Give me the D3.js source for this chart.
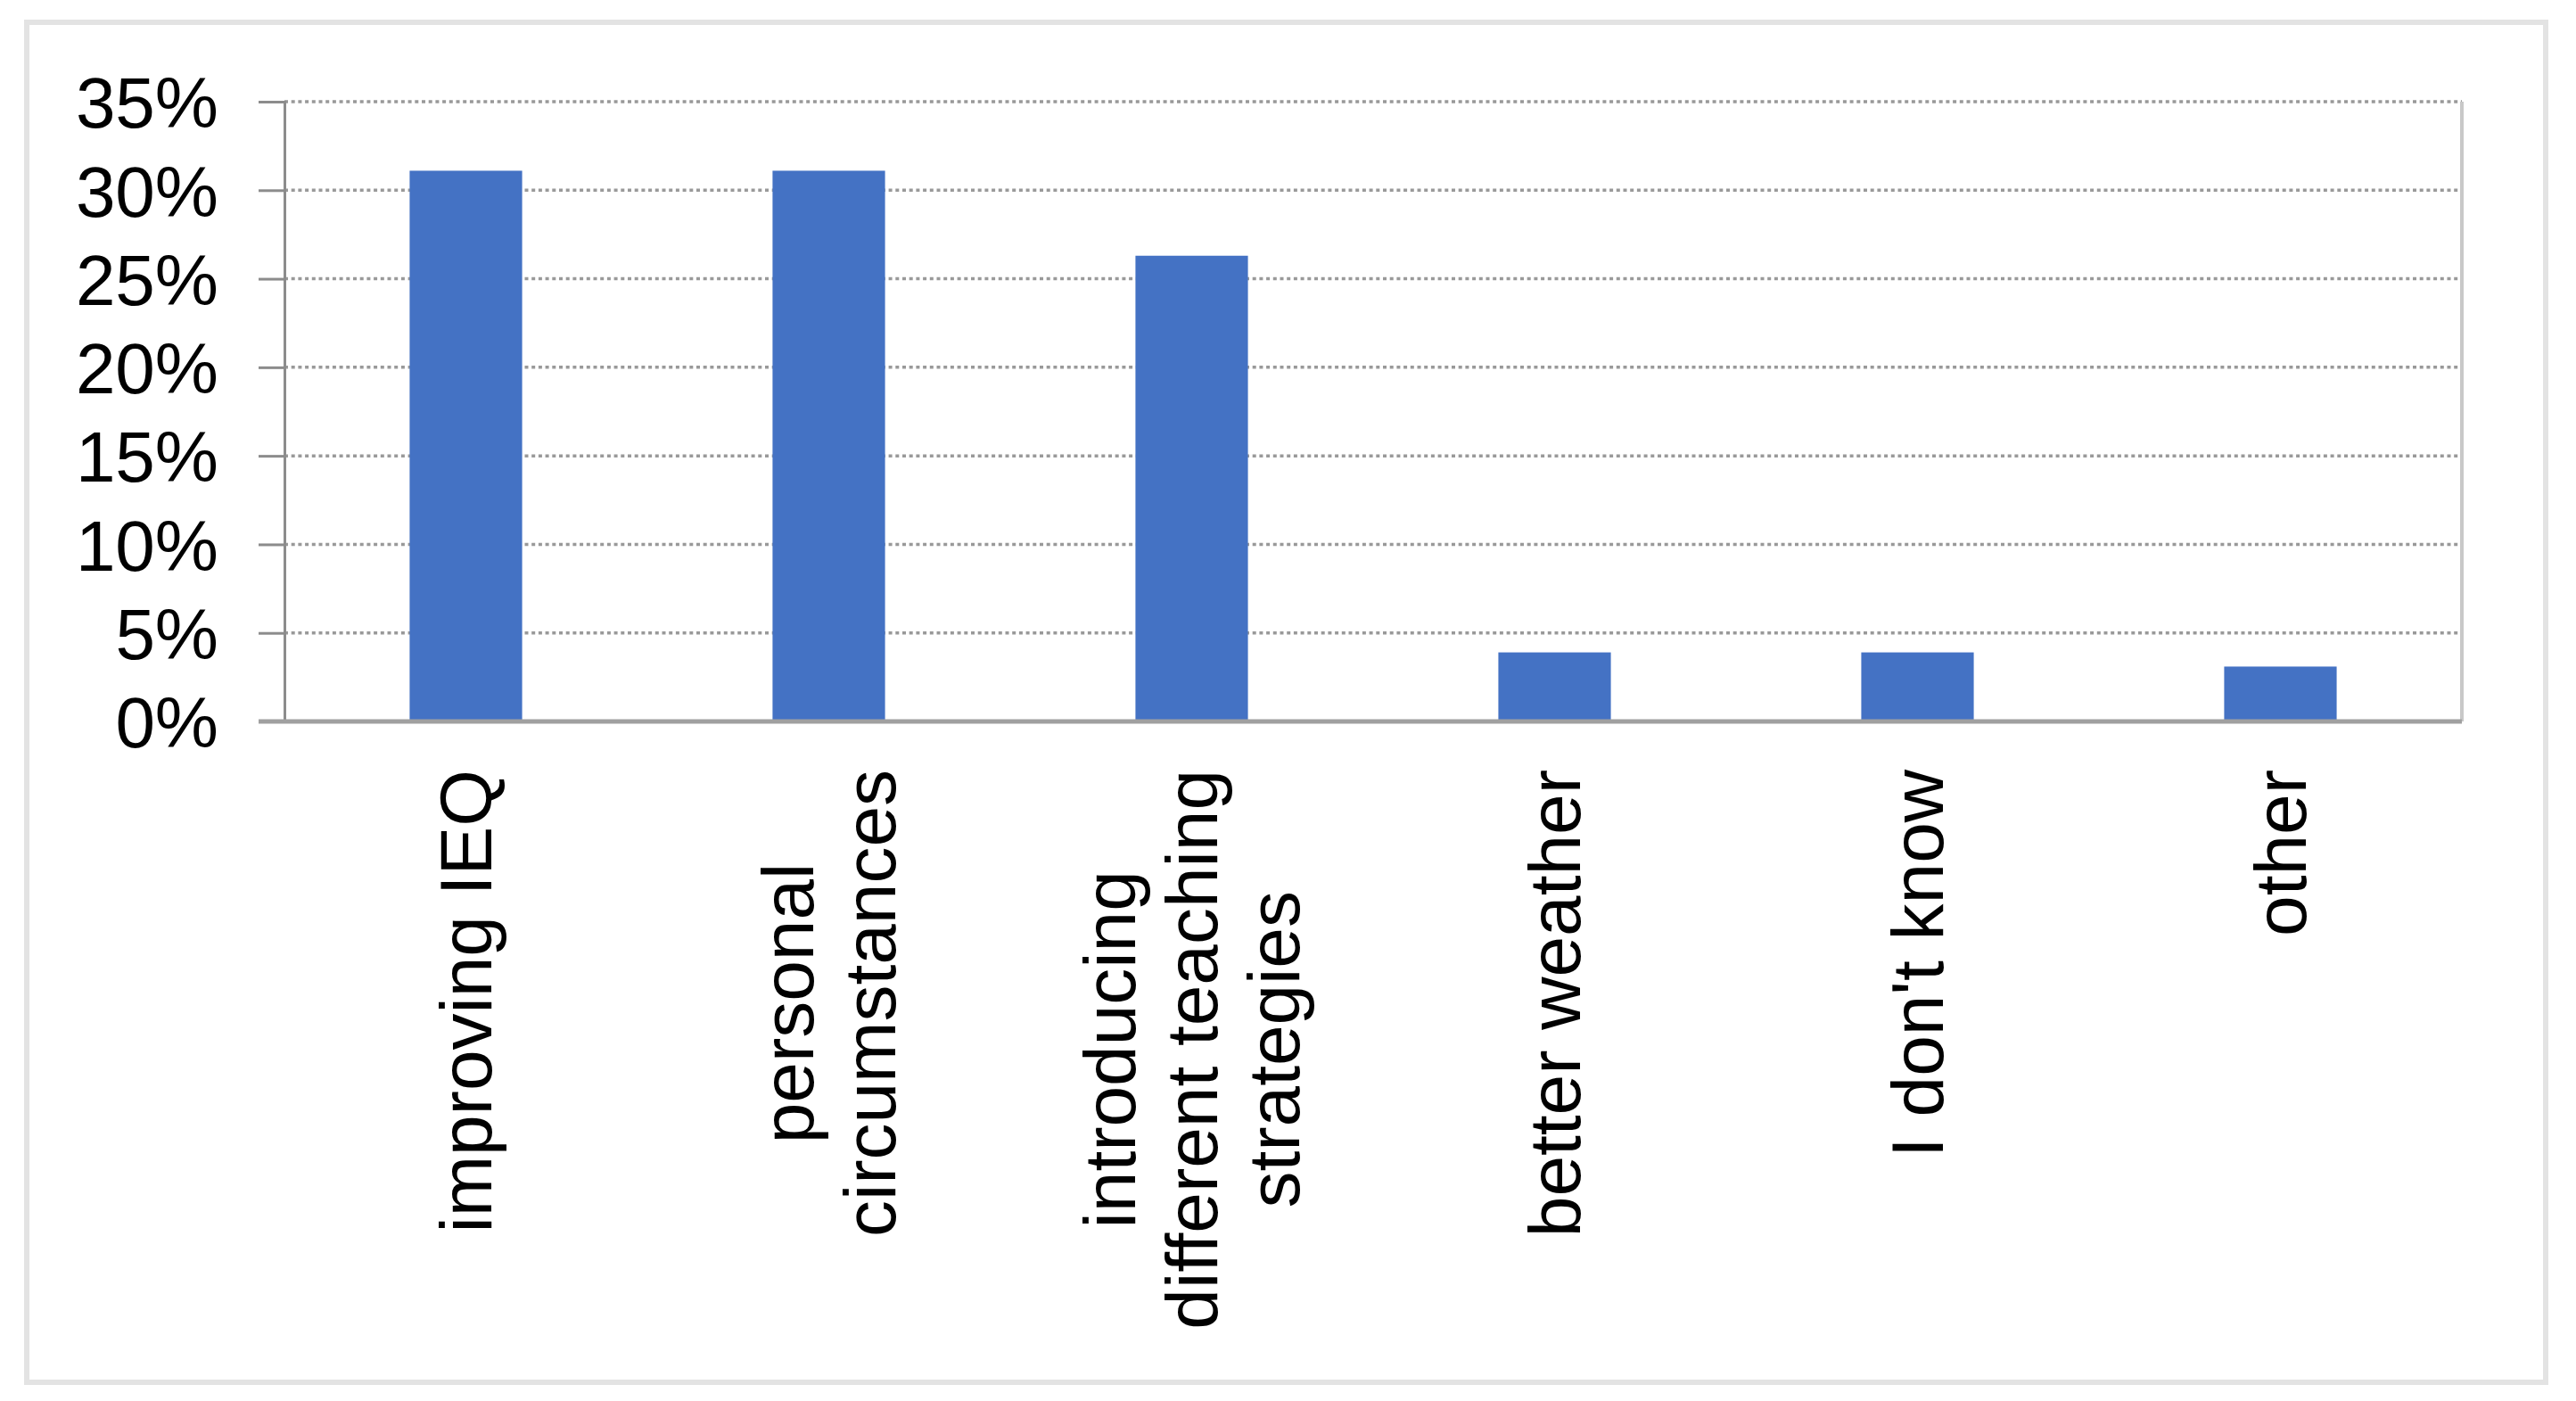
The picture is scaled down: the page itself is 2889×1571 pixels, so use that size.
<!DOCTYPE html>
<html>
<head>
<meta charset="utf-8">
<script src="https://cdn.jsdelivr.net/npm/d3@7"></script>
<style>
  html, body {
    margin: 0;
    padding: 0;
    background: #ffffff;
  }
  svg {
    display: block;
  }
  text {
    font-family: "Liberation Sans", Arial, Helvetica, sans-serif;
    fill: #000000;
  }
</style>
</head>
<body>
<svg id="chart"></svg>
<script>
// Data
const categories = [
  ["improving IEQ"],
  ["personal", "circumstances"],
  ["introducing", "different teaching", "strategies"],
  ["better weather"],
  ["I don't know"],
  ["other"],
];
const values = [31.1, 31.1, 26.3, 3.9, 3.9, 3.1];
const yTicks = [0, 5, 10, 15, 20, 25, 30, 35];

// Chart dimensions
const width = 2889;
const height = 1571;
const plotLeft = 319;
const plotRight = 2761;
const plotTop = 114;
const plotBottom = 809;
const tickLen = 29;
const xFont = 82;
const yFont = 80;
const lineHeight = 92;
const labelTop = 863;

const svg = d3
  .select("#chart")
  .attr("width", width)
  .attr("height", height)
  .attr("viewBox", [0, 0, width, height]);

// Outer frame
svg
  .append("rect")
  .attr("x", 30)
  .attr("y", 25)
  .attr("width", 2825)
  .attr("height", 1525)
  .attr("fill", "#ffffff")
  .attr("stroke", "#e3e3e3")
  .attr("stroke-width", 6);

// Scales
const x = d3
  .scaleBand()
  .domain(d3.range(categories.length))
  .range([plotLeft, plotRight])
  .paddingInner(0.69)
  .paddingOuter(0.345);

const y = d3
  .scaleLinear()
  .domain([0, 35])
  .range([plotBottom, plotTop]);

// Dotted gridlines
svg
  .append("g")
  .selectAll("line")
  .data(yTicks.filter((d) => d > 0))
  .join("line")
  .attr("x1", plotLeft)
  .attr("x2", plotRight)
  .attr("y1", (d) => y(d))
  .attr("y2", (d) => y(d))
  .attr("stroke", "#999999")
  .attr("stroke-width", 3.5)
  .attr("stroke-dasharray", "4,3.7");

// Right edge of plot area
svg
  .append("line")
  .attr("x1", plotRight)
  .attr("x2", plotRight)
  .attr("y1", plotTop)
  .attr("y2", plotBottom)
  .attr("stroke", "#c8c8c8")
  .attr("stroke-width", 4);

// Bars
svg
  .append("g")
  .selectAll("rect")
  .data(values)
  .join("rect")
  .attr("x", (d, i) => x(i))
  .attr("width", x.bandwidth())
  .attr("y", (d) => y(d))
  .attr("height", (d) => y(0) - y(d))
  .attr("fill", "#4472c4");

// Y axis
svg
  .append("g")
  .attr("transform", `translate(${plotLeft},0)`)
  .call(
    d3
      .axisLeft(y)
      .tickValues(yTicks)
      .tickSize(tickLen)
      .tickPadding(45)
      .tickFormat((d) => d + "%")
  )
  .call((g) => g.select(".domain").attr("stroke", "#8c8c8c").attr("stroke-width", 3))
  .call((g) => g.selectAll(".tick line").attr("stroke", "#8c8c8c").attr("stroke-width", 3))
  .call((g) =>
    g
      .selectAll(".tick text")
      .attr("font-size", yFont)
      .attr("font-family", null)
      .attr("fill", "#000000")
      .attr("dy", "0.36em")
  );

// X axis baseline
svg
  .append("line")
  .attr("x1", plotLeft - tickLen)
  .attr("x2", plotRight)
  .attr("y1", y(0))
  .attr("y2", y(0))
  .attr("stroke", "#a0a0a0")
  .attr("stroke-width", 5);

// Rotated category labels, lines centred on each other
const labels = svg
  .append("g")
  .selectAll("text")
  .data(categories)
  .join("text")
  .attr("font-size", xFont)
  .attr("text-anchor", "middle");

labels.each(function (lines, i) {
  const t = d3.select(this);
  const n = lines.length;
  lines.forEach((line, j) => {
    t.append("tspan")
      .attr("x", 0)
      .attr("y", (j - (n - 1) / 2) * lineHeight + 0.35 * xFont)
      .text(line);
  });
  let maxW = 0;
  t.selectAll("tspan").each(function () {
    maxW = Math.max(maxW, this.getComputedTextLength());
  });
  const cx = x(i) + x.bandwidth() / 2;
  const cy = labelTop + maxW / 2;
  t.attr("transform", `translate(${cx},${cy}) rotate(-90)`);
});
</script>
</body>
</html>
